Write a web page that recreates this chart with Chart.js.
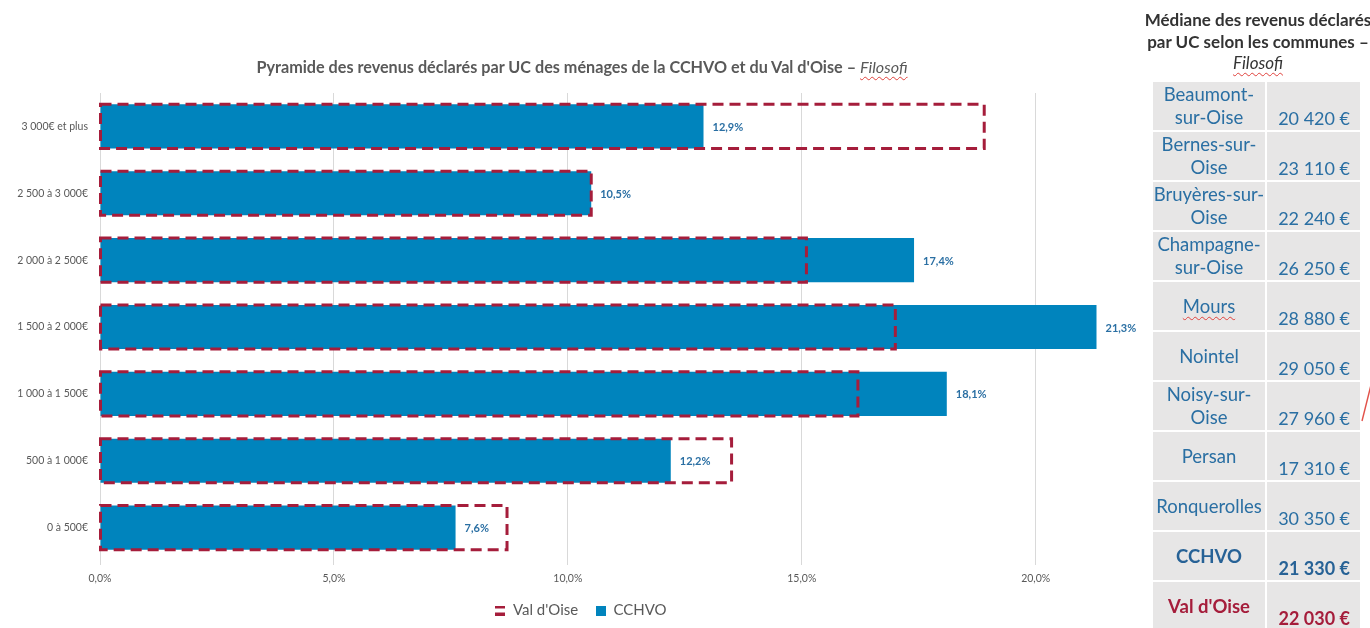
<!DOCTYPE html>
<html lang="fr">
<head>
<meta charset="utf-8">
<title>Pyramide des revenus déclarés par UC – CCHVO et Val d'Oise</title>
<script src="https://cdn.jsdelivr.net/npm/chart.js@4/dist/chart.umd.min.js"></script>
<style>
  html, body { margin: 0; padding: 0; background: #fff; width: 1370px; height: 628px; overflow: hidden; font-family: Lato, "Open Sans", sans-serif; }
  #chart-wrap { position: absolute; left: 0; top: 0; width: 1162px; height: 628px; }
  #chart-title { position: absolute; left: 0; top: 57px; width: 1164px; text-align: center; font: bold 16.2px Lato, sans-serif; color: #595959; white-space: nowrap; }
  .spell { text-decoration: underline wavy #e0413c; text-decoration-thickness: 1px; text-underline-offset: 3px; text-decoration-skip-ink: none; }
  .src { font-style: italic; font-weight: normal; }
  #table-title { position: absolute; left: 1140px; top: 9px; width: 236px; text-align: center; font: bold 17px/21.5px Lato, sans-serif; color: #333; white-space: nowrap; }
  #medianes { position: absolute; left: 1151px; top: 80px; border-collapse: separate; border-spacing: 2px; }
  #medianes td { background: #e7e6e6; height: 48px; padding: 0; color: #2a6fa3; font-size: 18.5px; line-height: 23px; }
  #medianes td.name { width: 112px; text-align: center; vertical-align: middle; white-space: pre-line; }
  #medianes td.val { width: 83px; text-align: right; padding-right: 10px; vertical-align: bottom; white-space: nowrap; font-size: 18px; }
  #medianes tr.total td { font-weight: bold; color: #276296; }
  #medianes tr.dept td { font-weight: bold; color: #a51d3b; }
  #stroke { position: absolute; left: 1360px; top: 383px; }
</style>
</head>
<body>
<div id="chart-wrap"><canvas id="pyramide" width="1162" height="628"></canvas></div>
<div id="chart-title">Pyramide des revenus déclarés par UC des ménages de la CCHVO et du Val d'Oise – <span class="src spell">Filosofi</span></div>
<div id="table-title">Médiane des revenus déclarés<br>par UC selon les communes –<br><span class="src spell">Filosofi</span></div>
<table id="medianes"><tbody></tbody></table>
<svg id="stroke" width="12" height="40"><line x1="2" y1="38" x2="11" y2="2" stroke="#e2524a" stroke-width="1.4"/></svg>

<script>
// Tranches de revenus (du haut vers le bas de la pyramide)
const categories = ['3 000€ et plus', '2 500 à 3 000€', '2 000 à 2 500€', '1 500 à 2 000€', '1 000 à 1 500€', '500 à 1 000€', '0 à 500€'];
// Part des ménages par tranche (%)
const valDOise = [18.9, 10.5, 15.1, 17.0, 16.2, 13.5, 8.7];
const cchvo = [12.9, 10.5, 17.4, 21.3, 18.1, 12.2, 7.6];
const xTickValues = [0, 5, 10, 15, 20];

// Médiane des revenus déclarés par UC, par commune
const communes = ['Beaumont-\nsur-Oise', 'Bernes-sur-\nOise', 'Bruyères-sur-\nOise', 'Champagne-\nsur-Oise', 'Mours', 'Nointel', 'Noisy-sur-\nOise', 'Persan', 'Ronquerolles', 'CCHVO', "Val d'Oise"];
const medianes = [20420, 23110, 22240, 26250, 28880, 29050, 27960, 17310, 30350, 21330, 22030];

const RED = '#a51d3b';
const BLUE = '#0084bd';
const LABEL_BLUE = '#2a6fa3';
const GREY_TXT = '#595959';
const GRID = '#d9d9d9';

const fmtPct = v => v.toFixed(1).replace('.', ',') + '%';
const fmtEur = v => String(v).replace(/\B(?=(\d{3})+(?!\d))/g, ' ') + ' €';

// Tableau des médianes
const tbody = document.querySelector('#medianes tbody');
communes.forEach((name, i) => {
  const tr = document.createElement('tr');
  if (name === 'CCHVO') tr.className = 'total';
  if (name === "Val d'Oise") tr.className = 'dept';
  const tdName = document.createElement('td');
  tdName.className = 'name';
  if (name === 'Mours') {
    const s = document.createElement('span');
    s.className = 'spell';
    s.textContent = name;
    tdName.appendChild(s);
  } else {
    tdName.textContent = name;
  }
  const tdVal = document.createElement('td');
  tdVal.className = 'val';
  tdVal.textContent = fmtEur(medianes[i]);
  tr.appendChild(tdName);
  tr.appendChild(tdVal);
  tbody.appendChild(tr);
});

// Pictogrammes de légende : trait pointillé (Val d'Oise) et carré plein (CCHVO)
function legendIcon(draw) {
  const c = document.createElement('canvas');
  c.width = 10;
  c.height = 10;
  draw(c.getContext('2d'));
  return c;
}
const iconVdo = legendIcon(g => {
  g.fillStyle = RED;
  g.fillRect(0, 0, 10, 3);
  g.fillRect(0, 7, 10, 3);
});
const iconCchvo = legendIcon(g => {
  g.fillStyle = BLUE;
  g.fillRect(0, 0, 10, 10);
});

Chart.defaults.font.family = 'Lato, "Open Sans", sans-serif';

// Contour pointillé du Val d'Oise + étiquettes de valeur CCHVO
const overlay = {
  id: 'overlay',
  afterDatasetsDraw(chart) {
    const ctx = chart.ctx;
    ctx.save();
    ctx.strokeStyle = RED;
    ctx.lineWidth = 3;
    ctx.setLineDash([11, 6]);
    chart.getDatasetMeta(0).data.forEach(bar => {
      const p = bar.getProps(['x', 'y', 'base', 'height'], true);
      ctx.strokeRect(p.base, p.y - p.height / 2, p.x - p.base, p.height);
    });
    ctx.setLineDash([]);
    ctx.fillStyle = LABEL_BLUE;
    ctx.font = 'bold 11px Lato, sans-serif';
    ctx.textAlign = 'left';
    ctx.textBaseline = 'middle';
    const ds = chart.data.datasets[1];
    chart.getDatasetMeta(1).data.forEach((bar, i) => {
      const p = bar.getProps(['x', 'y'], true);
      ctx.fillText(fmtPct(ds.data[i]), p.x + 9, p.y + 1);
    });
    ctx.restore();
  }
};

new Chart(document.getElementById('pyramide'), {
  type: 'bar',
  data: {
    labels: categories,
    datasets: [
      {
        label: "Val d'Oise",
        data: valDOise,
        backgroundColor: 'rgba(0,0,0,0)',
        borderColor: RED,
        borderWidth: 0,
        grouped: false,
        categoryPercentage: 1,
        barPercentage: 0.66
      },
      {
        label: 'CCHVO',
        data: cchvo,
        backgroundColor: BLUE,
        borderWidth: 0,
        grouped: false,
        categoryPercentage: 1,
        barPercentage: 0.66
      }
    ]
  },
  options: {
    indexAxis: 'y',
    responsive: false,
    animation: false,
    events: [],
    layout: { padding: { top: 93, left: 0, right: 0, bottom: 0 } },
    scales: {
      x: {
        type: 'linear',
        min: 0,
        max: 22.7,
        afterBuildTicks: scale => { scale.ticks = xTickValues.map(v => ({ value: v })); },
        ticks: {
          callback: v => fmtPct(v),
          font: { size: 10.5 },
          color: GREY_TXT,
          padding: 7,
          maxRotation: 0
        },
        grid: { color: GRID, lineWidth: 1, drawTicks: true, tickLength: 4, tickColor: GRID },
        border: { display: false },
        afterFit: scale => { scale.height = 32; }
      },
      y: {
        type: 'category',
        ticks: { font: { size: 10.5 }, color: GREY_TXT, padding: 12 },
        grid: { display: false, drawTicks: false },
        border: { display: true, color: GRID, width: 1 },
        afterFit: scale => { scale.width = 100; }
      }
    },
    plugins: {
      title: { display: false },
      tooltip: { enabled: false },
      legend: {
        position: 'bottom',
        labels: {
          usePointStyle: true,
          boxWidth: 10,
          boxHeight: 10,
          padding: 10,
          color: GREY_TXT,
          font: { size: 15 },
          generateLabels: chart => chart.data.datasets.map((ds, i) => ({
            text: i === 0 ? ds.label + '  ' : ds.label,
            pointStyle: i === 0 ? iconVdo : iconCchvo,
            fillStyle: i === 0 ? RED : BLUE,
            strokeStyle: i === 0 ? RED : BLUE,
            lineWidth: 0,
            hidden: false,
            datasetIndex: i,
            fontColor: GREY_TXT
          }))
        }
      }
    }
  },
  plugins: [overlay]
});
</script>
</body>
</html>
